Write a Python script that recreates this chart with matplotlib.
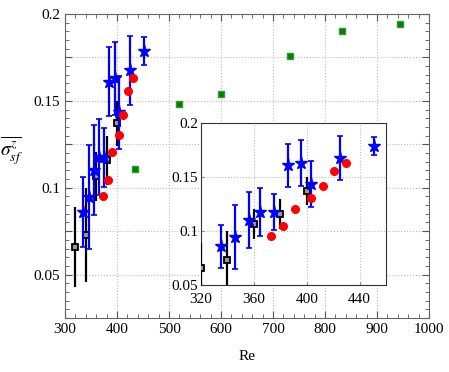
import numpy as np
import matplotlib
matplotlib.use('Agg')
import matplotlib.pyplot as plt
from matplotlib.ticker import MultipleLocator, FuncFormatter

plt.rcParams['font.family'] = ['Liberation Serif', 'DejaVu Serif']
plt.rcParams['mathtext.fontset'] = 'stix'

#Data
reBlack  = [320, 340, 360, 380, 400.5]
sigBlack = [0.0657, 0.073, 0.1065, 0.1157, 0.137]
errBlack = [0.023, 0.027, 0.014, 0.014, 0.013]

reBlue  = [335, 346, 356, 365, 375, 385.5, 395.5, 403.5, 425, 451]
sigBlue = [0.086, 0.0945, 0.110, 0.1176, 0.1176, 0.161, 0.163, 0.1435, 0.1676, 0.1787]
errBlue = [0.020, 0.030, 0.026, 0.022, 0.017, 0.020, 0.021, 0.021, 0.020, 0.008]

reRed  = [373, 382, 391, 403, 412, 420.5, 430]
sigRed = [0.0954, 0.1046, 0.1204, 0.1306, 0.1417, 0.1556, 0.163]

reGreen  = [435, 520, 600, 733, 833, 944]
sigGreen = [0.111, 0.148, 0.154, 0.176, 0.190, 0.194]

fmt = FuncFormatter(lambda v, p: '%g' % round(v, 4))
fmtMain = FuncFormatter(lambda v, p: ('%g' % round(v, 4)) if abs(v / 0.05 - round(v / 0.05)) < 1e-6 else '')

def draw(ax, green=True):
    if green:
        ax.plot(reGreen, sigGreen, 's', color='green', mec='#2e9a2e', ms=5, zorder=3)
    ax.errorbar(reBlack, sigBlack, yerr=errBlack, fmt='s', color='k', mfc='#999999',
                mec='k', mew=1.3, ms=5, elinewidth=1.6, capsize=0, zorder=4)
    ax.errorbar(reBlue, sigBlue, yerr=errBlue, fmt='*', color='blue', ms=9.5,
                elinewidth=1.6, capsize=2, capthick=1.2, zorder=5)
    ax.plot(reRed, sigRed, 'o', color='red', ms=5.5, zorder=6)

fig = plt.figure(figsize=(4.49, 3.72), dpi=100)

ax = fig.add_axes([0.1448, 0.1452, 0.8107, 0.8172])
draw(ax)
ax.set_xlim(300, 1000)
ax.set_ylim(0.025, 0.2)
ax.xaxis.set_major_locator(MultipleLocator(100))
ax.xaxis.set_minor_locator(MultipleLocator(20))
ax.yaxis.set_major_locator(MultipleLocator(0.025))
ax.yaxis.set_minor_locator(MultipleLocator(0.005))
ax.yaxis.set_major_formatter(fmtMain)
ax.tick_params(which='both', direction='in', top=True, right=True, labelsize=11, color='#555555')
ax.tick_params(which='major', length=5)
ax.tick_params(which='minor', length=3)
ax.grid(True, which='major', ls=':', color='#bbbbbb', lw=0.8)
for s in ax.spines.values():
    s.set_color('#666666')
ax.set_xlabel('Re', fontsize=11, labelpad=10)
ax.set_ylabel(r'$\overline{\sigma^{z}_{sf}}$', fontsize=14, rotation=0, va='center', ha='center')
ax.yaxis.set_label_coords(-0.146, 0.55)

ins = fig.add_axes([0.4477, 0.2339, 0.412, 0.4355])
draw(ins, green=False)
ins.set_xlim(320, 460)
ins.set_ylim(0.05, 0.2)
ins.xaxis.set_major_locator(MultipleLocator(40))
ins.yaxis.set_major_locator(MultipleLocator(0.05))
ins.yaxis.set_major_formatter(fmt)
ins.tick_params(direction='in', length=2, labelsize=11, pad=2, color='#888888')
ins.tick_params(axis='x', pad=6)
ins.grid(True, ls=':', color='#bbbbbb', lw=0.8)
for s in ins.spines.values():
    s.set_color('#333333')

fig.savefig('out.png', dpi=100)
